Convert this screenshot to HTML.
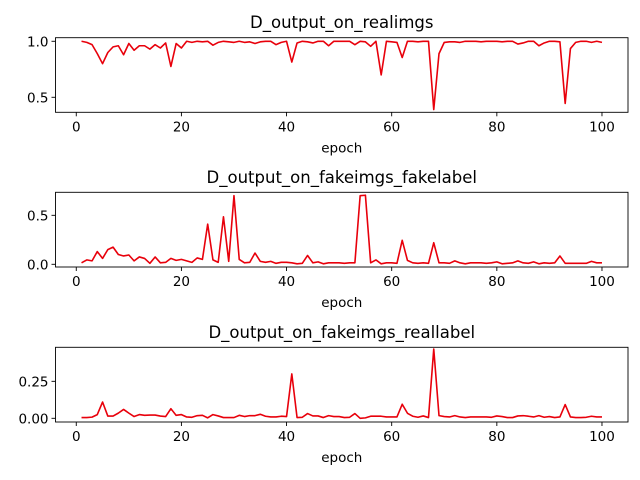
<!DOCTYPE html>
<html><head><meta charset="utf-8"><style>
body{margin:0;background:#fff;}
svg{display:block;font-family:"DejaVu Sans","Liberation Sans",sans-serif;}
</style></head><body>
<svg id="chart" width="640" height="480"></svg>
<script>
const epochs = Array.from({length:100},(_,i)=>i+1);
const realVals = [1.0,0.99,0.97,0.89,0.80,0.90,0.95,0.96,0.88,0.98,0.92,0.96,0.96,0.93,0.97,0.94,0.985,0.775,0.98,0.94,
1.0,0.99,1.0,0.995,1.0,0.965,0.99,1.0,0.995,0.99,1.0,0.99,0.995,0.98,0.995,1.0,1.0,0.97,0.99,1.0,
0.815,0.985,1.0,0.995,0.985,1.0,1.0,0.96,1.0,1.0,1.0,1.0,0.97,1.0,0.995,0.955,1.0,0.70,1.0,0.995,
0.99,0.855,1.0,1.0,0.995,1.0,1.0,0.39,0.89,0.99,0.995,0.995,0.99,1.0,1.0,1.0,0.995,1.0,1.0,1.0,
0.995,1.0,1.0,0.975,0.985,1.0,1.0,0.96,0.985,1.0,1.0,0.995,0.445,0.935,0.99,1.0,1.0,0.99,1.0,0.99];
const fakeLabelVals = [0.015,0.045,0.035,0.13,0.06,0.15,0.175,0.10,0.085,0.095,0.035,0.075,0.06,0.01,0.075,0.015,0.02,0.06,0.04,0.05,
0.035,0.02,0.065,0.05,0.41,0.045,0.02,0.485,0.03,0.70,0.05,0.015,0.02,0.115,0.03,0.02,0.03,0.01,0.02,0.02,
0.015,0.005,0.01,0.09,0.015,0.025,0.005,0.015,0.015,0.015,0.01,0.015,0.015,0.70,0.705,0.015,0.045,0.005,0.015,0.015,
0.01,0.245,0.04,0.015,0.01,0.015,0.01,0.22,0.015,0.015,0.01,0.035,0.015,0.005,0.015,0.015,0.015,0.01,0.015,0.025,
0.005,0.01,0.015,0.035,0.015,0.01,0.025,0.005,0.015,0.01,0.015,0.085,0.01,0.01,0.01,0.01,0.01,0.03,0.015,0.015];
const realLabelVals = [0.005,0.005,0.008,0.025,0.11,0.015,0.015,0.035,0.06,0.035,0.012,0.025,0.02,0.022,0.022,0.015,0.012,0.065,0.02,0.025,
0.009,0.007,0.018,0.02,0.003,0.025,0.016,0.005,0.005,0.005,0.02,0.012,0.018,0.018,0.027,0.014,0.009,0.009,0.014,0.012,
0.30,0.005,0.007,0.032,0.016,0.016,0.005,0.018,0.012,0.012,0.005,0.007,0.032,0.0,0.003,0.014,0.014,0.014,0.009,0.009,
0.009,0.095,0.034,0.014,0.007,0.016,0.005,0.468,0.018,0.012,0.009,0.018,0.009,0.005,0.009,0.009,0.009,0.009,0.007,0.016,
0.012,0.005,0.005,0.016,0.018,0.014,0.009,0.018,0.007,0.012,0.005,0.009,0.093,0.009,0.005,0.005,0.007,0.014,0.009,0.009];
const xTicks = [0,20,40,60,80,100];

const NS='http://www.w3.org/2000/svg';
const svg=document.getElementById('chart');
function mk(tag,attrs,parent){const e=document.createElementNS(NS,tag);for(const k in attrs)e.setAttribute(k,attrs[k]);(parent||svg).appendChild(e);return e;}

const panels=[
 {key:'real',title:'D_output_on_realimgs',vals:realVals,top:37.7,bottom:112.3,ymin:0.366,ymax:1.032,ticks:[0.5,1.0],fmt:v=>v.toFixed(1)},
 {key:'fakelabel',title:'D_output_on_fakeimgs_fakelabel',vals:fakeLabelVals,top:192.3,bottom:267,ymin:-0.0276,ymax:0.735,ticks:[0.0,0.5],fmt:v=>v.toFixed(1)},
 {key:'reallabel',title:'D_output_on_fakeimgs_reallabel',vals:realLabelVals,top:347.3,bottom:422,ymin:-0.025,ymax:0.48,ticks:[0.0,0.25],fmt:v=>v.toFixed(2)}
];
const L=55.5,R=628,xmin=-3.95,xmax=104.95;
const xs=v=>L+(v-xmin)/(xmax-xmin)*(R-L);

panels.forEach(p=>{
  const g=mk('g',{});
  
  
  const ys=v=>p.bottom-(v-p.ymin)/(p.ymax-p.ymin)*(p.bottom-p.top);
  const t=mk('text',{x:(L+R)/2,y:p.top-9.5,'text-anchor':'middle','font-size':'16.5'},g);
  t.textContent=p.title;
  
  
  const pts=epochs.map((e,i)=>xs(e).toFixed(2)+','+ys(p.vals[i]).toFixed(2)).join(' ');
  const line=mk('polyline',{points:pts,fill:'none',stroke:'#e8000b','stroke-width':'1.6','stroke-linejoin':'round'},g);
  
  
  const fr=mk('rect',{x:L,y:p.top,width:R-L,height:p.bottom-p.top,fill:'none',stroke:'#000','stroke-width':'0.9'},g);
  
  
  xTicks.forEach(v=>{
    const x=xs(v);
    mk('line',{x1:x,x2:x,y1:p.bottom,y2:p.bottom+4,stroke:'#000','stroke-width':'0.9'},g);
    const tl=mk('text',{x:x,y:p.bottom+19,'text-anchor':'middle','font-size':'13.5'},g);
    tl.textContent=v;
    
    
  });
  p.ticks.forEach(v=>{
    const y=ys(v);
    mk('line',{x1:L-4,x2:L,y1:y,y2:y,stroke:'#000','stroke-width':'0.9'},g);
    const tl=mk('text',{x:L-7,y:y+5,'text-anchor':'end','font-size':'13.5'},g);
    tl.textContent=p.fmt(v);
    
    
  });
  const xl=mk('text',{x:(L+R)/2,y:p.bottom+40,'text-anchor':'middle','font-size':'13.5'},g);
  xl.textContent='epoch';
  
  
});
</script>
</body></html>
